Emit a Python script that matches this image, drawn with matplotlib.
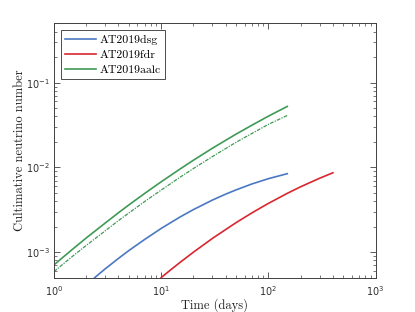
#!/usr/bin/env python3

"""Cumulative neutrino number against time for three TDEs."""

import matplotlib
matplotlib.use('Agg')
import matplotlib.pyplot as plt
from matplotlib.ticker import LogLocator, NullFormatter

# values (days, cumulative number)
t_dsg = [2.4, 3, 4, 5, 7, 10, 15, 20, 30, 40, 50, 70, 100, 150]
n_dsg = [5.01e-4, 6.34e-4, 8.45e-4, 1.045e-3, 1.41e-3, 1.905e-3, 2.60e-3, 3.18e-3,
         4.11e-3, 4.84e-3, 5.43e-3, 6.37e-3, 7.36e-3, 8.43e-3]

t_fdr = [10, 12, 15, 20, 30, 40, 50, 70, 100, 150, 200, 300, 400]
n_fdr = [5.01e-4, 6.05e-4, 7.57e-4, 1.0e-3, 1.45e-3, 1.85e-3, 2.23e-3, 2.90e-3,
         3.76e-3, 4.94e-3, 5.91e-3, 7.44e-3, 8.64e-3]

t_aalc = [1, 1.5, 2, 3, 4, 5, 7, 10, 15, 20, 30, 40, 50, 70, 100, 150]
n_aalc = [7.08e-4, 1.09e-3, 1.47e-3, 2.20e-3, 2.92e-3, 3.61e-3, 4.92e-3, 6.76e-3,
          9.57e-3, 0.01216, 0.0168, 0.0209, 0.0247, 0.0314, 0.0402, 0.0524]
n_aalc_low = [5.9e-4, 9.0e-4, 1.2e-3, 1.78e-3, 2.36e-3, 2.9e-3, 3.95e-3, 5.4e-3,
              7.66e-3, 9.7e-3, 0.0134, 0.0167, 0.0198, 0.0251, 0.0322, 0.0410]

labels = ['AT2019dsg', 'AT2019fdr', 'AT2019aalc']
colors = ['#4a78c2', '#d9262e', '#3f9a55']

plt.rcParams['mathtext.fontset'] = 'custom'
plt.rcParams['mathtext.rm'] = 'Liberation Sans'
plt.rcParams['mathtext.it'] = 'Liberation Sans:italic'
plt.rcParams['axes.formatter.use_mathtext'] = True
plt.rcParams['axes.unicode_minus'] = False

serif = ['cmr10', 'DejaVu Serif']
axis_gray = '#404040'

fig = plt.figure(figsize=(4.15, 3.12), dpi=100)
ax = fig.add_axes([0.13, 0.11, 0.775, 0.815])

ax.plot(t_dsg, n_dsg, color=colors[0], lw=1.2, label=labels[0])
ax.plot(t_fdr, n_fdr, color=colors[1], lw=1.2, label=labels[1])
ax.plot(t_aalc, n_aalc, color=colors[2], lw=1.2, label=labels[2])
ax.plot(t_aalc, n_aalc_low, color=colors[2], lw=0.9, ls=(0, (3, 1, 1, 1)))

ax.set_xscale('log')
ax.set_yscale('log')
ax.set_xlim(1, 1000)
ax.set_ylim(5e-4, 0.5)

ax.xaxis.set_major_locator(LogLocator(base=10, numticks=10))
ax.xaxis.set_minor_locator(LogLocator(base=10, subs=range(2, 10), numticks=20))
ax.yaxis.set_minor_locator(LogLocator(base=10, subs=range(2, 10), numticks=20))
ax.xaxis.set_minor_formatter(NullFormatter())
ax.yaxis.set_minor_formatter(NullFormatter())

ax.tick_params(which='both', direction='in', top=True, right=True, colors=axis_gray,
               labelsize=7, labelcolor='#303030')
ax.tick_params(which='major', length=4, width=0.6)
ax.tick_params(which='minor', length=2, width=0.5)
ax.tick_params(axis='x', pad=5)
ax.tick_params(axis='y', pad=3)
for s in ax.spines.values():
    s.set_color(axis_gray)
    s.set_linewidth(0.7)

ax.set_xlabel('Time (days)', family=serif, fontsize=9, color='#202020', labelpad=0)
ax.set_ylabel('Cultimative neutrino number', family=serif, fontsize=9, color='#202020', labelpad=0)

leg = ax.legend(loc='upper left', prop={'family': serif, 'size': 8.5}, fancybox=False,
                edgecolor='#303030', framealpha=1, handlelength=2.6, handletextpad=0.3,
                borderpad=0.35, labelspacing=0.4, borderaxespad=0.6)
leg.get_frame().set_linewidth(0.6)

fig.savefig('out.png', dpi=100)
